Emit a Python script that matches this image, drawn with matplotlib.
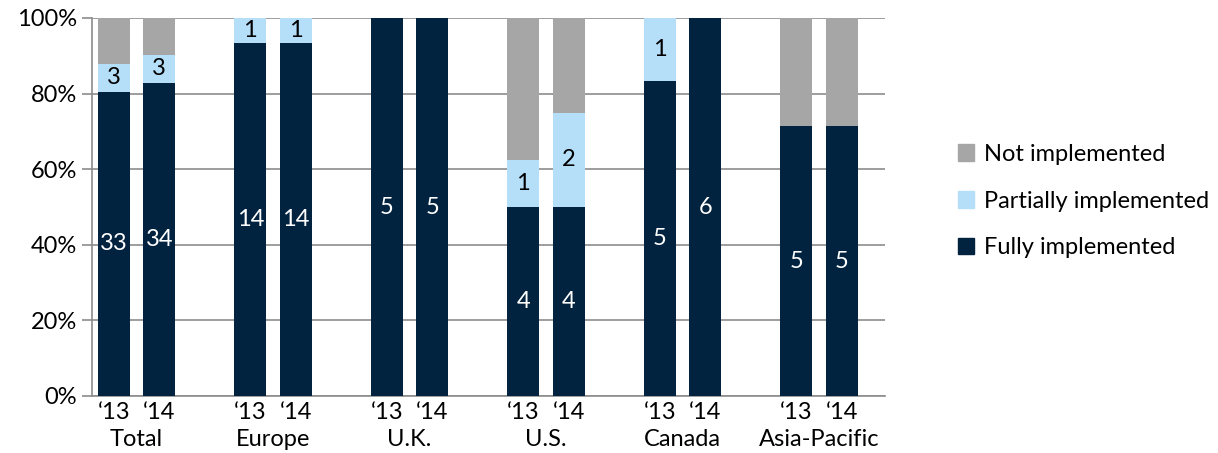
import matplotlib
matplotlib.use("Agg")
import matplotlib.pyplot as plt
import matplotlib.transforms as mtransforms
from matplotlib.patches import Patch
import numpy as np

plt.rcParams['font.family'] = ['Lato', 'DejaVu Sans']

groups = ["Total", "Europe", "U.K.", "U.S.", "Canada", "Asia-Pacific"]
years = ["\u201813", "\u201814"]
fully = [33, 34, 14, 14, 5, 5, 4, 4, 5, 6, 5, 5]
partial = [3, 3, 1, 1, 0, 0, 1, 2, 1, 0, 0, 0]
notimpl = [5, 4, 0, 0, 0, 0, 3, 2, 0, 0, 2, 2]

c_full = "#012340"
c_part = "#b5def9"
c_not = "#a6a6a6"

fully = np.array(fully, float)
partial = np.array(partial, float)
notimpl = np.array(notimpl, float)
tot = fully + partial + notimpl
pf = fully / tot * 100
pp = partial / tot * 100
pn = notimpl / tot * 100

pos = []
for g in range(len(groups)):
    pos += [3 * g, 3 * g + 1]
pos = np.array(pos, float)

fig = plt.figure(figsize=(12.18, 4.53), dpi=100)
ax = fig.add_axes([92 / 1218, 57 / 453, (885 - 92) / 1218, (396 - 18) / 453])

w = 0.7
ax.bar(pos, pf, w, color=c_full, zorder=3)
ax.bar(pos, pp, w, bottom=pf, color=c_part, zorder=3)
ax.bar(pos, pn, w, bottom=pf + pp, color=c_not, zorder=3)

fs = 17
for x, f, p, fv, pv in zip(pos, pf, pp, fully, partial):
    if fv > 0:
        ax.text(x, f / 2, f"{int(fv)}", ha="center", va="center", color="white", fontsize=fs, zorder=4)
    if pv > 0:
        ax.text(x, f + p / 2, f"{int(pv)}", ha="center", va="center", color="black", fontsize=fs, zorder=4)

ax.set_xlim(-0.48, 16.95)
ax.set_ylim(0, 100)
ax.set_yticks(np.arange(0, 101, 20))
ax.set_yticklabels([f"{v}%" for v in range(0, 101, 20)], fontsize=fs)
ax.yaxis.grid(True, color="#8c8c8c", linewidth=1.2, zorder=0)
ax.set_axisbelow(True)

ax.set_xticks(pos)
ax.set_xticklabels(years * len(groups), fontsize=fs)
ax.tick_params(axis="x", length=0, pad=4)
ax.tick_params(axis="y", length=7, color="#8c8c8c", width=1.2, pad=4)

for s in ["top", "right"]:
    ax.spines[s].set_visible(False)
for s in ["left", "bottom"]:
    ax.spines[s].set_color("#8c8c8c")
    ax.spines[s].set_linewidth(1.2)

trans = mtransforms.blended_transform_factory(ax.transData, fig.transFigure)
for g, name in enumerate(groups):
    ax.text(3 * g + 0.5, 1 - 440 / 453, name, transform=trans, ha="center", va="center", fontsize=fs)

handles = [Patch(color=c_not), Patch(color=c_part), Patch(color=c_full)]
labels = ["Not implemented", "Partially implemented", "Fully implemented"]
fig.legend(handles, labels, loc="center left", bbox_to_anchor=(946 / 1218, 1 - 201 / 453),
           frameon=False, fontsize=fs, handlelength=0.7, handleheight=0.7,
           handletextpad=0.4, labelspacing=1.1, borderpad=0)

fig.savefig("out.png", dpi=100)
